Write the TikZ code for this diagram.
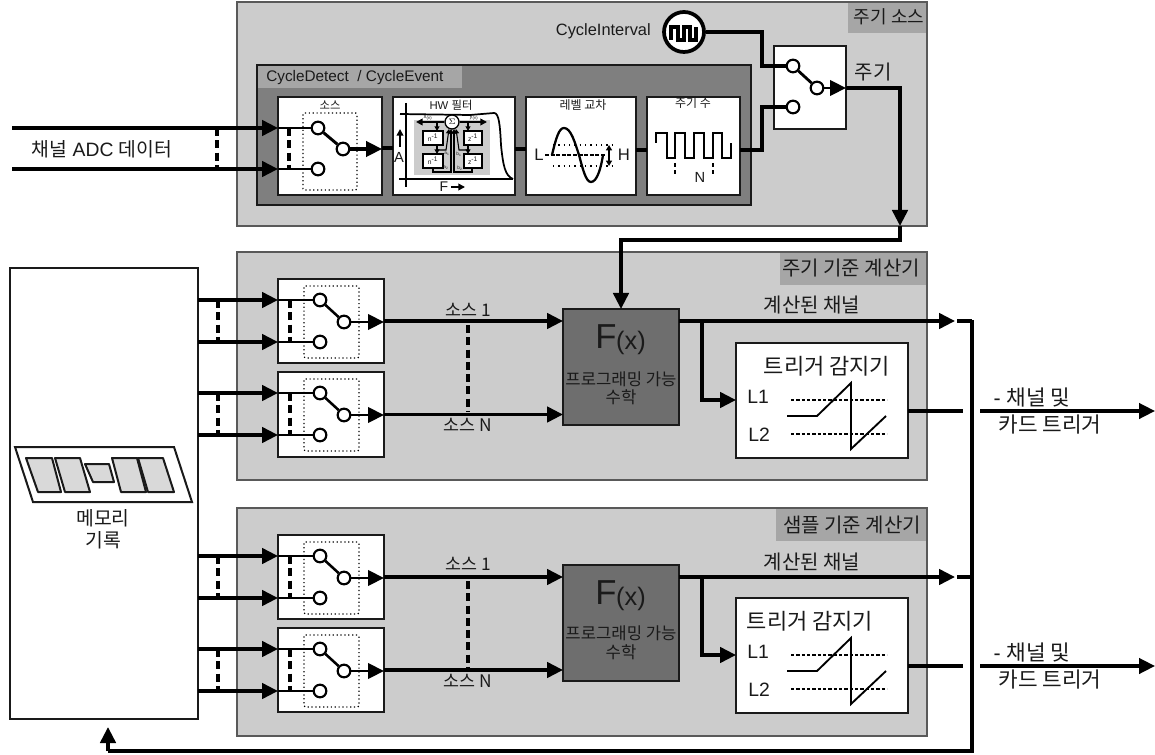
\documentclass[tikz,border=0pt]{standalone}
\usepackage{fontspec}
\usetikzlibrary{arrows.meta,calc}
\setmainfont{Liberation Sans}
\newfontfamily\kr{Noto Sans CJK KR}
\definecolor{panelgray}{HTML}{CCCCCC}
\definecolor{tabgray}{HTML}{A6A6A6}
\definecolor{darkpanel}{HTML}{7F7F7F}
\definecolor{fgray}{HTML}{6E6E6E}
\definecolor{lightpar}{HTML}{D9D9D9}
\definecolor{ink}{HTML}{1A1A1A}
\newcommand\fsz[1]{\fontsize{#1}{#1}\selectfont}
\newcommand\rbox[6]{\node[#6,anchor=north west,minimum width={((#4)-(#2))*0.75pt},minimum height={((#5)-(#3))*0.75pt},inner sep=0pt,outer sep=0pt] (#1) at (#2,#3) {};}
\tikzset{
  x=0.75pt,y=-0.75pt,
  panel/.style={draw=black!65,line width=1.1pt,fill=panelgray},
  tab/.style={fill=tabgray},
  wbox/.style={draw=ink,line width=1.5pt,fill=white},
  wire/.style={draw=black,line width=2.7pt},
  wirea/.style={wire,-{Triangle[length=12pt,width=11.5pt]}},
  midwire/.style={draw=black,line width=1.9pt},
  term/.style={circle,draw=black,line width=1.6pt,fill=white,minimum size=9.5pt,inner sep=0pt},
  dots/.style={draw=black,line width=0.9pt,dash pattern=on 0.9pt off 2pt,rounded corners=1pt},
  bus/.style={draw=black,line width=2.4pt,dash pattern=on 6pt off 3.2pt},
  txt/.style={text=ink,inner sep=0pt,align=center},
  tinyw/.style={draw=black,line width=0.8pt},
  tinya/.style={tinyw,-{Triangle[length=3.4pt,width=3.6pt]}},
  tinyb/.style={draw=black,line width=0.8pt,fill=white},
  thinw/.style={draw=black,line width=1.3pt},
  thina/.style={thinw,-{Triangle[length=5pt,width=5pt]}},
  thindash/.style={draw=black,line width=1.1pt,dash pattern=on 2.4pt off 1.6pt},
}
\newcommand\swblock[3]{%
  \rbox{#1}{278}{#2}{384}{#3}{wbox}
  \coordinate (#1bl) at (304,#2+7);
  \draw[dots] (304,#2+7) rectangle (359,#2+79);
  \node[term] (#1a) at (320,#2+21) {};
  \node[term] (#1b) at (344,#2+43) {};
  \node[term] (#1c) at (320,#2+63) {};
  \draw[midwire] (#1a) -- (#1b);
  \draw[midwire] (#1a -| #1.west) -- (#1a);
  \draw[midwire] (#1c -| #1.west) -- (#1c);
  \draw[bus] (290,#2+21) -- (290,#2+63);
  \draw[wirea,line width=2.2pt] (#1b) -- (#1b -| #1.east);
  \draw[wirea] (mem.east |- #1a) -- (#1a -| #1.west);
  \draw[wirea] (mem.east |- #1c) -- (#1c -| #1.west);
  \draw[bus] (218,#2+21) -- (218,#2+63);
}
\newcommand\calcblock[4]{%
  % #1 suffix, #2 F dy, #3 trigger dy, #4 trigger title x
  \rbox{f#1}{563}{309+#2}{679}{425+#2}{draw=ink,line width=1.3pt,fill=fgray}
  \node[txt] (ft#1) at (606,337+#2) {\fsz{26pt}F};
  \node[txt] (fx#1) at (631,343+#2) {\fsz{19pt}(x)};
  \node[txt] (fp#1) at (621,379+#2-#2/128) {\fsz{12.5pt}\kr 프로그래밍 가능};
  \node[txt] (fq#1) at (621,397+#2-#2/256) {\fsz{12.5pt}\kr 수학};
  \rbox{tr#1}{736}{343+#3}{908}{458+#3}{wbox}
  \node[txt] (trt#1) at (#4,366+#3) {\fsz{16.5pt}\kr 트리거 감지기};
  \node[txt] (la#1) at (758,397+#3) {\fsz{14.5pt}L1};
  \node[txt] (lb#1) at (759,435+#3) {\fsz{14.5pt}L2};
  \draw[thindash] (791,400+#3) -- (887,400+#3);
  \draw[thindash] (791,434+#3) -- (887,434+#3);
  \draw[midwire,line width=1.4pt,line join=miter] (787,416+#3) -- (817,416+#3) -- (851,383+#3) -- (851,449+#3) -- (886,416+#3);
  \coordinate (s1#1) at (562,321+#2);
  \node[txt] (so#1) at (468,310+#2-#2/128) {\fsz{13pt}\kr 소스 1};
  \node[txt] (sn#1) at (468,425+#2) {\fsz{13pt}\kr 소스 N};
  \node[txt] (cc#1) at (812,305+#2+#2/256) {\fsz{15pt}\kr 계산된 채널};
  \coordinate (tip#1) at (955,321+#2);
  \coordinate (stub#1) at (957,321+#2);
  \coordinate (br#1) at (702,321+#2);
  \draw[wirea] (f#1.east |- tip#1) -- (tip#1);
  \draw[wire] (stub#1) -- (stub#1 -| busx);
  \draw[wire] (br#1) -- (702,400+#3) -- ++(15,0);
  \draw[wirea] (702,400+#3) -- (702,400+#3 -| tr#1.west);
  \coordinate (ox#1) at (963,411+#3);
  \coordinate (oy#1) at (980,411+#3);
  \coordinate (oz#1) at (1155,411+#3);
  \draw[wire] (tr#1.east |- ox#1) -- (ox#1);
  \draw[wirea,line width=2.4pt] (oy#1) -- (oz#1);
  \node[txt] (oa#1) at (1032,398+#3) {\fsz{16pt}{- \kr 채널 및}};
  \node[txt] (ob#1) at (1050,425+#3) {\fsz{16pt}\kr 카드 트리거};
}
\begin{document}
\begin{tikzpicture}
\useasboundingbox (0,0) rectangle (1155,755);
\fill[white] (0,0) rectangle (1155,755);
% panels
\rbox{ptop}{237}{2}{927}{226}{panel}
\rbox{pmid}{237}{252}{927}{480}{panel}
\rbox{pbot}{237}{508}{927}{736}{panel}
\rbox{ttop}{848}{3}{926}{33}{tab}
\rbox{tmid}{780}{253}{926}{285}{tab}
\rbox{tbot}{776}{509}{926}{541}{tab}
\node[txt] (ltop) at (889,17) {\fsz{13.5pt}\kr 주기 소스};
\node[txt] (lmid) at (851,268) {\fsz{15pt}\kr 주기 기준 계산기};
\node[txt] (lbot) at (852,525) {\fsz{15pt}\kr 샘플 기준 계산기};
% memory
\rbox{mem}{10}{268}{198}{719}{wbox}
\draw[draw=ink,line width=1.5pt,fill=white] (15,447) -- (174,447) -- (192,502) -- (33,502) -- cycle;
\foreach \a/\b/\c/\d/\t/\u in {26/52/61/38/458/492,55/80/90/65/458/492,85/109/114/93/464/482,112/137/146/121/458/492,138/163/174/148/458/492}
  \draw[draw=ink,line width=1.5pt,fill=lightpar,line join=round] (\a,\t) -- (\b,\t) -- (\c,\u) -- (\d,\u) -- cycle;
\node[txt] (mema) at (103,518) {\fsz{14.5pt}\kr 메모리};
\node[txt] (memb) at (103,540) {\fsz{14.5pt}\kr 기록};
% top group
\rbox{det}{257}{65}{751}{205}{draw=ink,line width=1.5pt,fill=darkpanel}
\rbox{dett}{258}{66}{462}{88}{tab}
\node[txt,anchor=west] (detl) at (266,78) {\fsz{11.5pt}CycleDetect\ \ / CycleEvent};
\rbox{src}{278}{97}{382}{195}{wbox}
\rbox{hw}{393}{97}{515}{195}{wbox}
\rbox{lvl}{526}{97}{636}{195}{wbox}
\rbox{cnt}{647}{97}{740}{195}{wbox}
\draw[wire] (src.east |- 0,148) -- (hw.west |- 0,148);
\draw[wire] (hw.east |- 0,149) -- (lvl.west |- 0,149);
\draw[wire] (lvl.east |- 0,150) -- (cnt.west |- 0,150);
% source switch
\node[txt] (srct) at (330,105) {\fsz{8.5pt}\kr 소스};
\draw[dots] (303,113) rectangle (357,190);
\node[term] (srca) at (318,128) {};
\node[term] (srcb) at (343,149) {};
\node[term] (srcc) at (318,169) {};
\draw[wire,line width=2.2pt] (srca) -- (srcb);
\draw[midwire,line width=2.2pt] (srca -| src.west) -- (srca);
\draw[midwire,line width=2.2pt] (srcc -| src.west) -- (srcc);
\draw[bus] (289,128) -- (289,169);
\draw[wirea,line width=2.4pt] (srcb) -- (srcb -| src.east);
\coordinate (ina) at (12,128);
\coordinate (inc) at (12,169);
\draw[wirea] (ina) -- (ina -| src.west);
\draw[wirea] (inc) -- (inc -| src.west);
\draw[bus] (217,128) -- (217,169);
\node[txt] (adc) at (102,149) {\fsz{14.5pt}{\kr 채널} ADC {\kr 데이터}};
% HW filter
\node[txt] (hwt) at (451,105) {\fsz{8.5pt}HW {\kr 필터}};
\draw[thinw] (406,103) -- (406,187);
\draw[thinw] (399,179) -- (513,179);
\fill[panelgray] (414,120) rectangle (490,175);
\draw[thinw] (400,114) -- (470,115) -- (494,113) .. controls (499,113) and (500,125) .. (501,145) .. controls (503,165) and (505,176) .. (513,179);
\node[circle,draw=black,line width=1pt,fill=white,minimum size=10.5pt,inner sep=0pt] (sig) at (452,122) {\fsz{6.5pt}$\Sigma$};
\coordinate (xl) at (416,122);
\coordinate (yr) at (487,122);
\draw[thina] (sig) -- (xl);
\draw[thina] (sig) -- (yr);
\node[txt] (xn) at (428,118) {\fsz{4.5pt}x\textsubscript{(n)}};
\node[txt] (yn) at (474,118) {\fsz{4.5pt}y\textsubscript{(n)}};
\rbox{na}{423}{131}{443}{145}{tinyb}
\rbox{nb}{423}{154}{443}{168}{tinyb}
\rbox{za}{464}{131}{482}{145}{tinyb}
\rbox{zb}{464}{154}{482}{168}{tinyb}
\node[txt] at (na.center) {\fsz{5pt}n\textsuperscript{-1}};
\node[txt] at (nb.center) {\fsz{5pt}n\textsuperscript{-1}};
\node[txt] at (za.center) {\fsz{5pt}z\textsuperscript{-1}};
\node[txt] at (zb.center) {\fsz{5pt}z\textsuperscript{-1}};
\draw[tinya] (437,122) -- (437,131);
\draw[tinya] (437,145) -- (437,154);
\draw[tinya] (468,122) -- (468,131);
\draw[tinya] (468,145) -- (468,154);
\draw[tinya] (437,150) -- (446,150) -- (449,129);
\draw[tinya] (443,172) -- (451,172) -- (451,129);
\draw[tinyw] (433,168) -- (433,172) -- (443,172);
\draw[tinya] (468,150) -- (459,150) -- (456,129);
\draw[tinya] (464,172) -- (454,172) -- (454,129);
\draw[tinyw] (472,168) -- (472,172) -- (464,172);
\node[txt] at (447,154) {\fsz{3.5pt}a\textsubscript{1}};
\node[txt] at (446,168) {\fsz{3.5pt}a\textsubscript{2}};
\node[txt] at (459,154) {\fsz{3.5pt}b\textsubscript{1}};
\node[txt] at (460,168) {\fsz{3.5pt}b\textsubscript{2}};
\coordinate (au) at (400,129);
\coordinate (ad) at (400,147);
\draw[draw=black,line width=1.3pt,-{Triangle[length=5pt,width=5pt]}] (ad) -- (au);
\node[txt] (alab) at (399,157) {\fsz{11pt}A};
\node[txt] (flab) at (444,187) {\fsz{10.5pt}F};
\coordinate (fa) at (451,187);
\coordinate (fb) at (465,187);
\draw[draw=black,line width=1.3pt,-{Triangle[length=5pt,width=5pt]}] (fa) -- (fb);
% level crossing
\node[txt] (lvlt) at (583,105) {\fsz{9pt}\kr 레벨 교차};
\draw[draw=black,line width=1pt,dash pattern=on 1pt off 3pt] (553,145) -- (617,145);
\draw[draw=black,line width=1pt,dash pattern=on 1pt off 3pt] (553,166) -- (617,166);
\draw[draw=black,line width=1pt,dash pattern=on 3pt off 1.2pt] (545,155) -- (605,155);
\draw[draw=black,line width=1.7pt] (552,155) .. controls (556,138) and (559,128) .. (564,128) .. controls (571,128) and (575,143) .. (579,155) .. controls (583,170) and (586,182) .. (591,182) .. controls (597,182) and (601,168) .. (603,155);
\draw[draw=black,line width=1.2pt,{Triangle[length=4pt,width=4.5pt]}-{Triangle[length=4pt,width=4.5pt]}] (609,145) -- (609,166);
\node[txt] (lvll) at (539,155) {\fsz{12.5pt}L};
\node[txt] (lvlh) at (624,155) {\fsz{12.5pt}H};
% cycle count
\node[txt] (cntt) at (693,103) {\fsz{9pt}\kr 주기 수};
\draw[draw=black,line width=1.7pt] (656,143) -- (656,133) -- (667,133) -- (667,158) -- (675,158) -- (675,133) -- (685,133) -- (685,158) -- (694,158) -- (694,133) -- (704,133) -- (704,158) -- (713,158) -- (713,133) -- (722,133) -- (722,158) -- (731,158) -- (731,143);
\draw[draw=black,line width=1.2pt,dash pattern=on 3pt off 2.5pt] (675,163) -- (675,177);
\draw[draw=black,line width=1.2pt,dash pattern=on 3pt off 2.5pt] (713,163) -- (713,177);
\node[txt] (cntn) at (700,177) {\fsz{11pt}N};
% cycle interval and cycle switch
\node[txt,anchor=east] (cil) at (651,31) {\fsz{12.3pt}CycleInterval};
\node[circle,draw=black,line width=2.8pt,fill=white,minimum size=30pt,inner sep=0pt] (clk) at (684,32) {};
\draw[draw=black,line width=2.6pt] (671,40) -- (671,27) -- (678,27) -- (678,40) -- (684,40) -- (684,27) -- (690,27) -- (690,40) -- (696,40) -- (696,27);
\rbox{csw}{774}{46}{846}{129}{draw=ink,line width=1.2pt,fill=white}
\node[term] (cswa) at (793,66) {};
\node[term] (cswb) at (817,88) {};
\node[term] (cswc) at (793,107) {};
\draw[wire,line width=2.1pt] (cswa) -- (cswb);
\draw[wire] (clk) -- (762,32) -- (762,66) -- (cswa);
\draw[wire] (cnt.east |- 0,150) -- (762,150) -- (762,107) -- (cswc);
\draw[wirea,line width=2.2pt] (cswb) -- (cswb -| csw.east);
\node[txt] (jugi) at (873,72) {\fsz{15pt}\kr 주기};
\coordinate (d1) at (900,88);
\coordinate (d2) at (900,226);
\coordinate (d3) at (900,240);
\coordinate (d4) at (621,240);
\draw[wirea] (csw.east |- d1) -- (d1) -- (d2);
\draw[wire] (d2) -- (d3) -- (d4) -- ++(0,15);
\coordinate (busx) at (972,320);
\coordinate (busy) at (972,751);
\coordinate (meminb) at (108,751);
\coordinate (memtip) at (108,727);
\draw[wire] (busx) -- (busy) -- (meminb);
\draw[wirea] (meminb) -- (memtip);
% calculators
\swblock{sw1}{279}{363}
\swblock{sw2}{372}{457}
\swblock{sw3}{535}{619}
\swblock{sw4}{628}{712}
\calcblock{A}{0}{0}{827}
\calcblock{B}{256}{255}{810}
\draw[wirea] (d4) -- (d4 |- fA.north);
\draw[wirea] (sw1.east) -- (sw1.east -| fA.west);
\draw[wirea] (sw2.east) -- (sw2.east -| fA.west);
\draw[wirea] (sw3.east) -- (sw3.east -| fB.west);
\draw[wirea] (sw4.east) -- (sw4.east -| fB.west);
\draw[bus] (468,325) -- (468,412);
\draw[bus] (468,581) -- (468,668);
\end{tikzpicture}
\end{document}
